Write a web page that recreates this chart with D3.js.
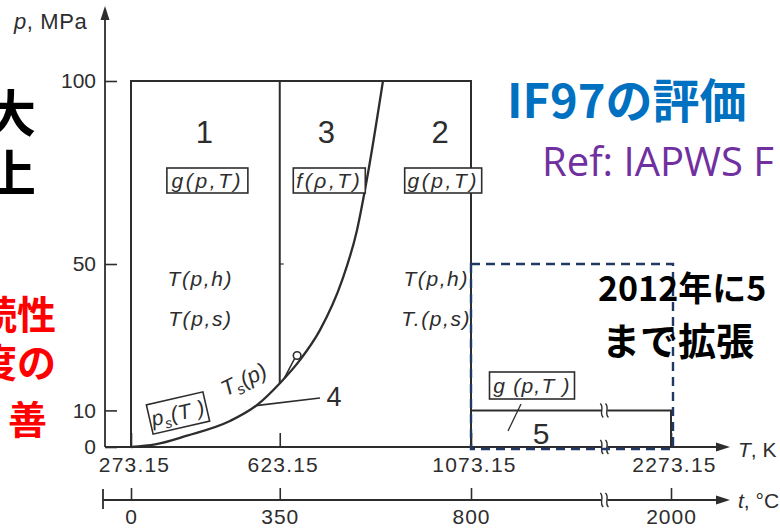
<!DOCTYPE html>
<html>
<head>
<meta charset="utf-8">
<script src="https://cdn.jsdelivr.net/npm/d3@7"></script>
<style>
  html, body { margin: 0; padding: 0; background: #fff; }
  svg { display: block; }
</style>
</head>
<body>
<svg id="chart" width="780" height="530"></svg>
<script>
// ---- Data ---------------------------------------------------------------
// Axis ticks
const kelvinTicks   = [273.15, 623.15, 1073.15, 2273.15];
const celsiusTicks  = [0, 350, 800, 2000];
const pressureTicks = [0, 10, 50, 100];

// Region limits (T in K, p in MPa)
const tMin = 273.15, t13 = 623.15, t25 = 1073.15, tMax = 2273.15;
const pMax = 100, p5Max = 10, pExtMax = 50;
const tBreak = 1873.15;            // position of the axis break symbol

// Saturation line continued by the region 2/3 boundary (T, p)
const boundaryT = [273.15, 330, 405, 506, 570, 624, 671, 718, 770, 805, 828, 866];
const boundaryP = [0,      0.7, 3.1, 7.1, 11.5, 17.5, 23.8, 32.0, 45.6, 59.3, 73.0, 100];

// Critical point marker and where its stem meets the line
const critT = 664, critP = 25.0, critStemT = 634;

// Region numbers and their labels
const regionNames  = ['1', '3', '2'];
const regionCenter = [448.15, 735, 1003];
const regionFunc   = ['g(p,T)', 'f(ρ,T)', 'g(p,T)'];
const backwardFuncs = [['T(p,h)', 'T(p,s)'], ['T(p,h)', 'T.(p,s)']];

// ---- Setup --------------------------------------------------------------
const svg = d3.select('#chart');
const x = d3.scaleLinear().domain([tMin, t25, tMax]).range([131, 471, 671]);
const y = d3.scaleLinear().domain([0, pMax]).range([447, 81]);
const boundaryAt = d3.scaleLinear().domain(boundaryT).range(boundaryP);

const ink = '#2d2d2d';
const sans = "'Liberation Sans', Arial, Helvetica, sans-serif";
const cjk = "'Noto Sans CJK JP', 'Noto Sans', sans-serif";
const yT = y(0), yC = 500;   // baselines of the Kelvin and Celsius axes

const g = svg.append('g');

// ---- Pressure axis ------------------------------------------------------
const yAxis = g.append('g').attr('transform', 'translate(105,0)')
  .call(d3.axisLeft(y).tickValues(pressureTicks).tickSizeInner(-12).tickSizeOuter(0).tickPadding(9));
yAxis.select('.domain').remove();
yAxis.selectAll('line').attr('stroke', ink).attr('stroke-width', 1.6);
yAxis.selectAll('text').attr('font-family', sans).attr('font-size', 21).attr('fill', ink);
g.append('line').attr('x1', 105).attr('x2', 105).attr('y1', yT).attr('y2', 16)
  .attr('stroke', ink).attr('stroke-width', 1.8);
g.append('path').attr('d', 'M105,6 L100.5,20 L109.5,20 Z').attr('fill', ink);
const pl = g.append('text').attr('x', 14).attr('y', 29).attr('font-family', sans)
  .attr('font-size', 22).attr('letter-spacing', 0.6).attr('fill', ink);
pl.append('tspan').attr('font-style', 'italic').text('p');
pl.append('tspan').text(',  MPa');

// ---- Kelvin axis --------------------------------------------------------
const xAxis = g.append('g').attr('transform', `translate(0,${yT})`)
  .call(d3.axisBottom(x).tickValues(kelvinTicks).tickSizeInner(-14).tickSizeOuter(0).tickPadding(10)
    .tickFormat(d3.format('.2f')));
xAxis.select('.domain').remove();
xAxis.selectAll('line').attr('stroke', ink).attr('stroke-width', 1.6);
xAxis.selectAll('text').attr('font-family', sans).attr('font-size', 21).attr('fill', ink)
  .attr('letter-spacing', 1.2).attr('dx', 3);
g.append('line').attr('x1', 105).attr('x2', 718).attr('y1', yT).attr('y2', yT)
  .attr('stroke', ink).attr('stroke-width', 2);
g.append('path').attr('d', `M730,${yT} L716,${yT - 4.5} L716,${yT + 4.5} Z`).attr('fill', ink);
const tk = g.append('text').attr('x', 738).attr('y', yT + 10).attr('font-family', sans)
  .attr('font-size', 21).attr('fill', ink);
tk.append('tspan').attr('font-style', 'italic').text('T');
tk.append('tspan').text(', K');

// ---- Celsius axis -------------------------------------------------------
const celsius = d3.scaleLinear().domain(x.domain().map(d => d - 273.15)).range(x.range());
const cAxis = g.append('g').attr('transform', `translate(0,${yC})`)
  .call(d3.axisBottom(celsius).tickValues(celsiusTicks).tickSizeInner(-12).tickSizeOuter(0)
    .tickPadding(9).tickFormat(d3.format('d')));
cAxis.select('.domain').remove();
cAxis.selectAll('line').attr('stroke', ink).attr('stroke-width', 1.6);
cAxis.selectAll('text').attr('font-family', sans).attr('font-size', 21).attr('fill', ink)
  .attr('letter-spacing', 1);
g.append('line').attr('x1', 103).attr('x2', 718).attr('y1', yC).attr('y2', yC)
  .attr('stroke', ink).attr('stroke-width', 2);
g.append('line').attr('x1', 103).attr('x2', 103).attr('y1', yC - 11).attr('y2', yC + 9)
  .attr('stroke', ink).attr('stroke-width', 1.8);
g.append('path').attr('d', `M730,${yC} L716,${yC - 4.5} L716,${yC + 4.5} Z`).attr('fill', ink);
const tc = g.append('text').attr('x', 738).attr('y', yC + 8).attr('font-family', sans)
  .attr('font-size', 21).attr('fill', ink);
tc.append('tspan').attr('font-style', 'italic').text('t');
tc.append('tspan').text(', °C');

// ---- Region outlines ----------------------------------------------------
const box = g.append('g').attr('fill', 'none').attr('stroke', ink).attr('stroke-width', 2);
box.append('path').attr('d', `M${x(tMin)},${y(0)} V${y(pMax)} H${x(t25)} V${y(0)}`);
box.append('line').attr('x1', x(t13)).attr('x2', x(t13))
  .attr('y1', y(pMax)).attr('y2', y(boundaryAt(t13)));
box.append('line').attr('x1', x(t13)).attr('x2', x(t13) + 4)
  .attr('y1', y(pExtMax)).attr('y2', y(pExtMax)).attr('stroke-width', 1.2);
// Region 5
box.append('path').attr('d', `M${x(t25)},${y(p5Max)} H${x(tMax)} V${y(0)}`);

// Saturation line and 2/3 boundary
const line = d3.line().x((d, i) => x(boundaryT[i])).y(d => y(d)).curve(d3.curveMonotoneX);
box.append('path').attr('d', line(boundaryP)).attr('stroke-width', 2.3);

// Critical point
const cx0 = x(critT), cy0 = y(critP);
box.append('line').attr('x1', x(critStemT)).attr('y1', y(boundaryAt(critStemT)))
  .attr('x2', cx0 - 2.5).attr('y2', cy0 + 3).attr('stroke-width', 1.6);
box.append('circle').attr('cx', cx0).attr('cy', cy0).attr('r', 3.8).attr('fill', '#fff')
  .attr('stroke-width', 1.6);

// Axis break symbols
function breakMark(py) {
  const bx = x(tBreak);
  g.append('rect').attr('x', bx - 3).attr('y', py - 3).attr('width', 6).attr('height', 6).attr('fill', '#fff');
  [-2.6, 2.6].forEach(o => {
    g.append('path')
      .attr('d', `M${bx + o - 1.5},${py - 7} C${bx + o + 3},${py - 3} ${bx + o - 3},${py + 3} ${bx + o + 1.5},${py + 7}`)
      .attr('fill', 'none').attr('stroke', ink).attr('stroke-width', 1.4);
  });
}
[y(p5Max), yT, yC].forEach(breakMark);

// ---- Labels inside the diagram -------------------------------------------
function boxedText(parent, cx, cy, w, h, angle, build, size, spacing) {
  const gg = parent.append('g').attr('transform', `translate(${cx},${cy}) rotate(${angle})`);
  gg.append('rect').attr('x', -w / 2).attr('y', -h / 2).attr('width', w).attr('height', h)
    .attr('fill', '#fff').attr('stroke', ink).attr('stroke-width', 1.6);
  const t = gg.append('text').attr('text-anchor', 'middle').attr('y', size * 0.35)
    .attr('font-family', sans).attr('font-size', size).attr('font-style', 'italic')
    .attr('letter-spacing', spacing).attr('fill', ink);
  build(t);
  return gg;
}

const labels = g.append('g');
const regionBoxW = [81, 72, 77];
regionNames.forEach((name, i) => {
  const cxr = x(regionCenter[i]);
  labels.append('text').attr('x', cxr - 1).attr('y', 132).attr('dominant-baseline', 'central')
    .attr('text-anchor', 'middle').attr('font-family', sans).attr('font-size', 31)
    .attr('fill', ink).text(name);
  boxedText(labels, cxr + 2, 180.5, regionBoxW[i], 25, 0, t => t.text(regionFunc[i]), 21, 2.6);
});
backwardFuncs.forEach((pair, i) => {
  const cxr = x(regionCenter[i === 0 ? 0 : 2]) - 5;
  pair.forEach((s, j) => {
    labels.append('text').attr('x', cxr).attr('y', 278 + j * 40).attr('dominant-baseline', 'central')
      .attr('text-anchor', 'middle').attr('font-family', sans).attr('font-size', 21)
      .attr('font-style', 'italic').attr('letter-spacing', 1.6).attr('fill', ink).text(s);
  });
});

// p_s(T) and T_s(p) along the saturation line
boxedText(labels, 178, 413, 58, 30, -13, t => {
  t.append('tspan').text('p');
  t.append('tspan').attr('font-size', 14).attr('dy', 5).text('s');
  t.append('tspan').attr('dy', -5).text('(T )');
}, 21, 0.5);
const ts = labels.append('text').attr('transform', 'translate(244,380) rotate(-26)')
  .attr('text-anchor', 'middle').attr('y', 7).attr('font-family', sans).attr('font-size', 22)
  .attr('font-style', 'italic').attr('fill', ink);
ts.append('tspan').text('T');
ts.append('tspan').attr('font-size', 15).attr('dy', 5).text('s');
ts.append('tspan').attr('dy', -5).text('(p)');

// Region 4 label and leader
const r4T = 567;
labels.append('line').attr('x1', x(r4T)).attr('y1', y(boundaryAt(r4T)))
  .attr('x2', 320).attr('y2', 398).attr('stroke', ink).attr('stroke-width', 1.6);
labels.append('text').attr('x', 334).attr('y', 397).attr('dominant-baseline', 'central')
  .attr('text-anchor', 'middle').attr('font-family', sans).attr('font-size', 27)
  .attr('fill', ink).text('4');

// Region 5 label and leader
boxedText(labels, 532, 385.5, 85, 27, 0, t => t.text('g (p,T )'), 21, 1.2);
labels.append('line').attr('x1', 521).attr('y1', 404).attr('x2', 508).attr('y2', 431)
  .attr('stroke', ink).attr('stroke-width', 1.3);
labels.append('text').attr('x', 541).attr('y', 433).attr('dominant-baseline', 'central')
  .attr('text-anchor', 'middle').attr('font-family', sans).attr('font-size', 30)
  .attr('fill', ink).text('5');

// ---- Extended range (2007 revision) -------------------------------------
g.append('rect')
  .attr('x', x(t25)).attr('y', y(pExtMax))
  .attr('width', x(tMax) + 2 - x(t25)).attr('height', y(0) + 2 - y(pExtMax))
  .attr('fill', 'none').attr('stroke', '#1f3864').attr('stroke-width', 2.4)
  .attr('stroke-dasharray', '9,6');

// ---- Slide text ----------------------------------------------------------
const slide = svg.append('g').attr('font-family', cjk).attr('font-weight', 700);
slide.append('text').attr('x', 36).attr('y', 110).attr('dominant-baseline', 'central')
  .attr('text-anchor', 'end').attr('font-size', 50).attr('fill', '#000').text('大');
slide.append('text').attr('x', 36).attr('y', 170).attr('dominant-baseline', 'central')
  .attr('text-anchor', 'end').attr('font-size', 50).attr('fill', '#000').text('上');
[['続性', 312, 56], ['度の', 360, 56], ['善', 417, 47]].forEach(([s, cy, ex]) => {
  slide.append('text').attr('x', ex).attr('y', cy).attr('dominant-baseline', 'central')
    .attr('text-anchor', 'end').attr('font-size', 39).attr('fill', '#ff0000').text(s);
});
slide.append('text').attr('x', 507).attr('y', 118).attr('font-size', 47)
  .attr('fill', '#0070c0').text('IF97の評価');
slide.append('text').attr('x', 542).attr('y', 176).attr('font-size', 40)
  .attr('font-family', "'Open Sans', 'Noto Sans', sans-serif").attr('font-weight', 400)
  .attr('fill', '#7030a0').text('Ref: IAPWS F');
slide.append('text').attr('x', 598).attr('y', 301).attr('font-size', 34)
  .attr('fill', '#000').text('2012年に5');
slide.append('text').attr('x', 602).attr('y', 355).attr('font-size', 38)
  .attr('fill', '#000').text('まで拡張');
</script>
</body>
</html>
